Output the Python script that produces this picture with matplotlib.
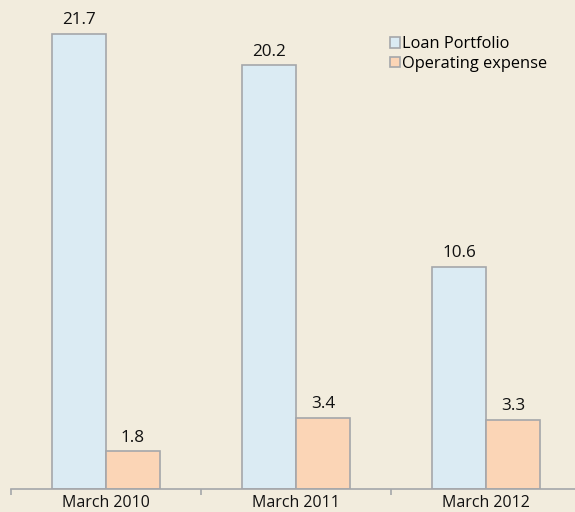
import matplotlib.pyplot as plt
import numpy as np

# chart data
categories = ['March 2010', 'March 2011', 'March 2012']
loan_portfolio = [21.7, 20.2, 10.6]
operating_expense = [1.8, 3.4, 3.3]
series_names = ['Loan Portfolio', 'Operating expense']

bg = '#f2ecdd'
blue = '#dbebf3'
peach = '#fbd5b6'
edge = '#a5a7aa'

plt.rcParams['font.family'] = ['Open Sans', 'DejaVu Sans']

fig = plt.figure(figsize=(5.75, 5.12), dpi=100, facecolor=bg)
# axis runs off the right edge like the original crop
ax = fig.add_axes([11 / 575, 23 / 512, 570 / 575, 489 / 512])
ax.set_facecolor(bg)

x = np.arange(len(categories))
w = 0.284
b1 = ax.bar(x - w / 2, loan_portfolio, w, color=blue, edgecolor=edge, linewidth=1.2,
            label=series_names[0])
b2 = ax.bar(x + w / 2, operating_expense, w, color=peach, edgecolor=edge, linewidth=1.2,
            label=series_names[1])

for bars in (b1, b2):
    for r in bars:
        ax.annotate(f'{r.get_height():.1f}', (r.get_x() + r.get_width() / 2, r.get_height()),
                    xytext=(0, 4), textcoords='offset points', ha='center', va='bottom',
                    fontsize=12.3, color='#111111')

ax.set_xlim(-0.5, 2.5)
ax.set_ylim(0, 23.3)
ax.set_yticks([])
for s in ['left', 'right', 'top']:
    ax.spines[s].set_visible(False)
ax.spines['bottom'].set_color(edge)
ax.spines['bottom'].set_linewidth(1.2)

# category boundary ticks, labels in the middle
ax.set_xticks([-0.5, 0.5, 1.5, 2.5])
ax.set_xticklabels([])
ax.tick_params(axis='x', which='major', length=4, color=edge, width=1.2, direction='out')
ax.set_xticks(x, minor=True)
ax.set_xticklabels(categories, minor=True, fontsize=11.5, color='#111111')
ax.tick_params(axis='x', which='minor', length=0, pad=4)

leg = ax.legend(loc='upper left', bbox_to_anchor=(372 / 570, 0.939), frameon=False,
                fontsize=11.8, handlelength=0.62, handleheight=0.62, handletextpad=0.12,
                labelspacing=0.2, borderaxespad=0)

fig.savefig('out.png', dpi=100, facecolor=bg)
